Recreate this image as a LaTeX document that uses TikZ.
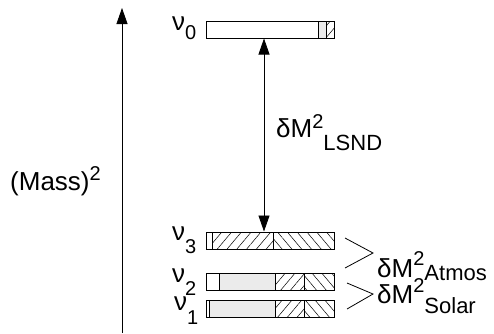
\documentclass[tikz,border=0pt]{standalone}
\usepackage{fontspec}
\setmainfont{Liberation Sans}
\usetikzlibrary{patterns.meta,arrows.meta}
\newcommand\Sml[1]{{\fontsize{20}{20}\selectfont #1}}
\newcommand\Smb[1]{{\fontsize{22}{22}\selectfont #1}}
\newcommand\Up[2]{\raisebox{#1}{\Sml{#2}}}
\newcommand\Dn[2]{\raisebox{-#1}{\Sml{#2}}}
\newcommand\Dnb[2]{\raisebox{-#1}{\Smb{#2}}}
\begin{document}
\begin{tikzpicture}[x=1pt,y=-1pt,
  bar/.style={draw,line width=1pt,minimum width=128pt,minimum height=17pt,inner sep=0pt},
  seg/.style={line width=0.8pt},
  gfill/.style={fill=black!8},
  ne/.style={pattern={Lines[angle=50,distance=7.5pt,line width=0.5pt]}},
  nw/.style={pattern={Lines[angle=-50,distance=7.5pt,line width=0.5pt]}},
  lab/.style={font=\fontsize{26}{26}\selectfont,inner sep=0pt,anchor=base west},
  tip/.style={-{Triangle[length=16pt,width=11pt]}}
]
\useasboundingbox (0,0) rectangle (494,333);
% axis
\coordinate (ax0) at (122,333);
\coordinate (ax1) at (122,8);
\draw[tip,line width=0.8pt] (ax0) -- (ax1);
\node[lab] (mass) at (10,190) {(Mass)\Up{10pt}{2}};

% nu0 bar
\fill[gfill] (318,21) rectangle (326,38);
\fill[ne] (326,21) rectangle (334,38);
\draw[seg] (318,21) -- (318,38) (326,21) -- (326,38);
\node[bar] (b0) at (270,29.5) {};
\node[lab] (n0) at (172,30) {ν\Dn{9pt}{0}};

% nu3 bar
\fill[ne] (212,232) rectangle (273,249);
\fill[nw] (273,232) rectangle (334,249);
\draw[seg] (212,232) -- (212,249) (273,232) -- (273,249);
\node[bar] (b3) at (270,240.5) {};
\node[lab] (n3) at (172,240) {ν\Dn{13pt}{3}};

% nu2 bar
\fill[gfill] (219,273) rectangle (275,290);
\fill[ne] (275,273) rectangle (304,290);
\fill[nw] (304,273) rectangle (334,290);
\draw[seg] (219,273) -- (219,290) (275,273) -- (275,290) (304,273) -- (304,290);
\node[bar] (b2) at (270,281.5) {};
\node[lab] (n2) at (172,282) {ν\Dn{13pt}{2}};

% nu1 bar
\fill[gfill] (209,300) rectangle (275,317);
\fill[ne] (275,300) rectangle (304,317);
\fill[nw] (304,300) rectangle (334,317);
\draw[seg] (209,300) -- (209,317) (275,300) -- (275,317) (304,300) -- (304,317);
\node[bar] (b1) at (270,308.5) {};
\node[lab] (n1) at (174,310) {ν\Dn{14pt}{1}};

% LSND arrow
\draw[{Triangle[length=16pt,width=11pt]}-{Triangle[length=16pt,width=11pt]},line width=0.8pt]
  ([xshift=-6pt]b0.south) -- ([xshift=-6pt]b3.north);
\node[lab] (lsnd) at (276,137) {δM\Up{9pt}{2}\Dnb{13pt}{LSND}};

% brackets
\draw[line width=0.8pt] (345,238) -- (373,253) -- (345,268);
\draw[line width=0.8pt] (347,283) -- (373,294) -- (347,309);
\node[lab] (atm) at (377,277) {δM\Up{12pt}{2}\Dnb{3pt}{Atmos}};
\node[lab] (sol) at (377,303) {δM\Up{11pt}{2}\Dnb{10pt}{Solar}};
\end{tikzpicture}
\end{document}
